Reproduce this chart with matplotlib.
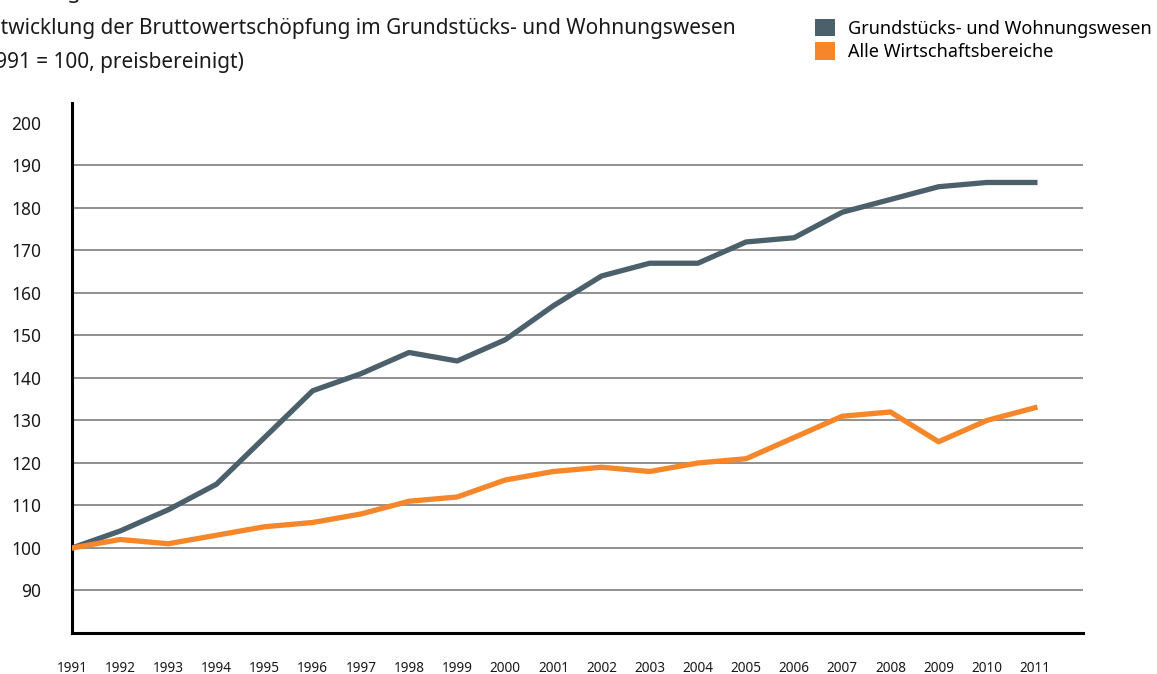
# plot.py
# -*- coding: utf-8 -*-

import matplotlib.pyplot as plt
from matplotlib.patches import Patch

# Input values.
years = list(range(1991, 2012))
grundstuecke = [100, 104, 109, 115, 126, 137, 141, 146, 144, 149, 157,
                164, 167, 167, 172, 173, 179, 182, 185, 186, 186]
alle_bereiche = [100, 102, 101, 103, 105, 106, 108, 111, 112, 116, 118,
                 119, 118, 120, 121, 126, 131, 132, 125, 130, 133]
y_ticks = [90, 100, 110, 120, 130, 140, 150, 160, 170, 180, 190, 200]
labels = ["Grundstücks- und Wohnungswesen", "Alle Wirtschaftsbereiche"]

grey = "#4c606b"
orange = "#f5862a"

plt.rcParams["font.family"] = ["Noto Sans", "DejaVu Sans"]

W, H = 1157, 674
fig = plt.figure(figsize=(W / 100, H / 100), dpi=100)
ax = fig.add_axes([72 / W, 41 / H, (1083 - 72) / W, (633 - 103) / H])

# Grid lines.
for v in y_ticks[:-1]:
    ax.axhline(v, color="#8f8f8f", linewidth=1.4, zorder=1)

# Lines.
ax.plot(years, grundstuecke, color=grey, linewidth=3.8, zorder=3)
ax.plot(years, alle_bereiche, color=orange, linewidth=3.8, zorder=3)

ax.set_xlim(1991, 2012)
ax.set_ylim(80, 204.7)
ax.set_yticks(y_ticks)
ax.set_xticks(years)
ax.set_xticklabels([str(y) for y in years])
ax.tick_params(axis="y", length=0, pad=22, labelsize=12.5, colors="#1a1a1a")
ax.tick_params(axis="x", length=0, pad=20, labelsize=9.8, colors="#1a1a1a")

for side in ["top", "right"]:
    ax.spines[side].set_visible(False)
for side in ["left", "bottom"]:
    ax.spines[side].set_linewidth(2.2)
    ax.spines[side].set_color("black")

# Title (clipped at the left edge as in the source).
fig.text(-24 / W, 1 - 34 / H, "Entwicklung der Bruttowertschöpfung im Grundstücks- und Wohnungswesen",
         fontsize=15, color="#1a1a1a")
fig.text(-23 / W, 1 - 68 / H, "(1991 = 100, preisbereinigt)", fontsize=15, color="#1a1a1a")
fig.text(81 / W, 1 + 2 / H, "Abbildung", fontsize=16, fontweight="bold", color="#1a1a1a",
         ha="right", va="baseline")

# Legend.
handles = [Patch(facecolor=grey), Patch(facecolor=orange)]
fig.legend(handles, labels, loc="upper left", bbox_to_anchor=(806 / W, 1 - 10 / H),
           frameon=False, fontsize=13, handlelength=1.1, handleheight=1.1,
           handletextpad=0.7, labelspacing=0.25, borderpad=0)

fig.savefig("out.png", dpi=100)
